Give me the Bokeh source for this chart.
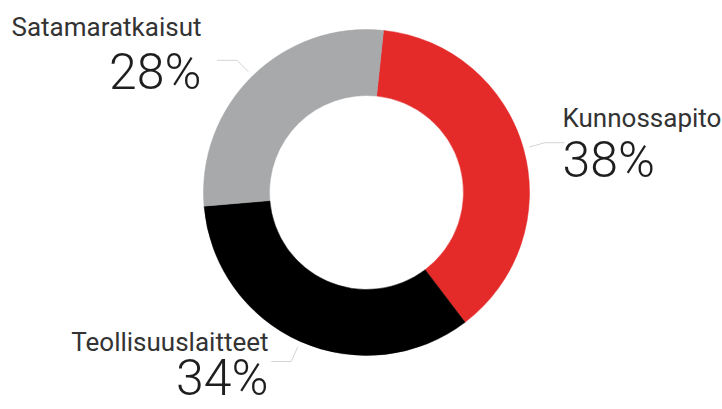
import math
from bokeh.plotting import figure
from bokeh.models import Range1d
from bokeh.core.properties import value
from bokeh.embed import file_html
from bokeh.resources import INLINE

# ---- data ----
categories = ["Kunnossapito", "Teollisuuslaitteet", "Satamaratkaisut"]
shares = [38, 34, 28]
colors = ["#e52a2a", "#000000", "#a7a9ab"]
pct_labels = [f"{v}%" for v in shares]

# ---- layout (screen px, y downwards) ----
W, H = 722, 409
CX, CY = 366, 192
R_OUT, R_IN = 163, 97
START = 6.0  # degrees clockwise from 12 o'clock
NAME_SIZE, PCT_SIZE = 26, 50
# label anchors: (x, name baseline y, pct baseline y, align)
label_pos = [
    (562, 128, 180, "left"),
    (268, 352, 398, "right"),
    (201, 37, 92, "right"),
]
leader_side = [1, -1, -1]
SHIFT = 0.41  # em correction for baseline placement in svg text

p = figure(width=W, height=H, output_backend="svg", toolbar_location=None,
           x_range=Range1d(0, W), y_range=Range1d(0, H), min_border=0)
p.axis.visible = False
p.grid.visible = False
p.outline_line_color = None
p.background_fill_color = "white"
p.border_fill_color = "white"

def Y(y):
    return H - y

total = float(sum(shares))
theta = START
for i, (cat, v, col) in enumerate(zip(categories, shares, colors)):
    span = 360.0 * v / total
    a0 = math.radians(90 - theta)
    a1 = math.radians(90 - (theta + span))
    p.annular_wedge(x=[CX], y=[Y(CY)], inner_radius=R_IN, outer_radius=R_OUT,
                    start_angle=a0, end_angle=a1, direction="clock",
                    fill_color=col, line_color=col, line_width=0.5)
    mid = math.radians(theta + span / 2)
    sx = CX + (R_OUT + 6) * math.sin(mid)
    sy = CY - (R_OUT + 6) * math.cos(mid)
    ex = CX + (R_OUT + 22) * math.sin(mid)
    ey = CY - (R_OUT + 22) * math.cos(mid)
    hx = ex + 20 * leader_side[i]
    p.line(x=[sx, ex, hx], y=[Y(sy), Y(ey), Y(ey)], line_color="#d4d4d4", line_width=1)
    lx, ny, py, al = label_pos[i]
    p.text(x=[lx], y=[Y(ny - SHIFT * NAME_SIZE)], text=[cat], text_font=value("Roboto"),
           text_font_size=f"{NAME_SIZE}px", text_color="#333333", text_align=al,
           text_baseline="alphabetic")
    p.text(x=[lx], y=[Y(py - SHIFT * PCT_SIZE)], text=[pct_labels[i]],
           text_font=value("Roboto Light"),
           text_font_size=f"{PCT_SIZE}px", text_color="#1e1e1e", text_align=al,
           text_baseline="alphabetic")
    theta += span

open("out.html", "w").write(file_html(p, INLINE))
